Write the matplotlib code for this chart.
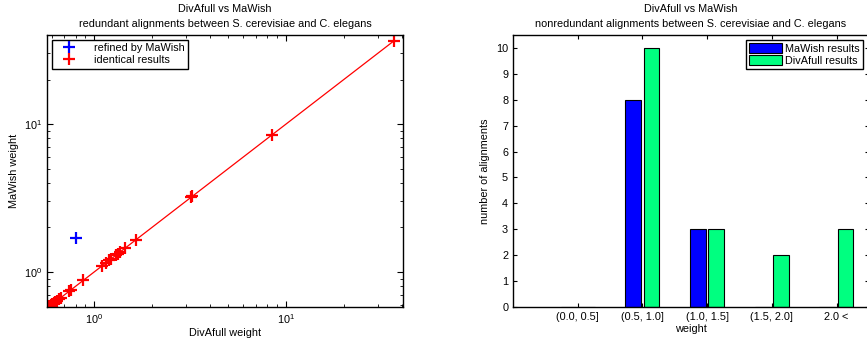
import matplotlib
matplotlib.use("Agg")
import matplotlib.pyplot as plt
import numpy as np

plt.rcParams['font.family'] = ['Liberation Sans', 'DejaVu Sans']
plt.rcParams['mathtext.fontset'] = 'custom'
plt.rcParams['mathtext.rm'] = 'Liberation Sans'
plt.rcParams['mathtext.it'] = 'Liberation Sans:italic'
plt.rcParams['font.size'] = 7.8

# ---- data: left scatter ----
identical_weights = [0.575, 0.585, 0.595, 0.605, 0.615, 0.625, 0.64, 0.655, 0.67,
                     0.74, 0.76, 0.88, 1.10, 1.15, 1.20, 1.22, 1.30, 1.33, 1.36,
                     1.45, 1.65, 3.20, 3.25, 8.5, 36.5]
refined_divafull = [0.806]
refined_mawish = [1.70]

# ---- data: right bars ----
categories = ['(0.0, 0.5]', '(0.5, 1.0]', '(1.0, 1.5]', '(1.5, 2.0]', '2.0 <']
mawish_counts = [0, 8, 3, 0, 0]
divafull_counts = [0, 10, 3, 2, 3]

W, H = 867, 342
fig = plt.figure(figsize=(W / 100, H / 100), dpi=100)

def ax_rect(x0, x1, y0, y1):
    return [x0 / W, 1 - y1 / H, (x1 - x0) / W, (y1 - y0) / H]

FS = 7.8

# ---------- left ----------
ax1 = fig.add_axes(ax_rect(47, 403, 35, 307))
ax1.set_xscale('log')
ax1.set_yscale('log')
lo, hi = min(identical_weights), max(identical_weights)
ax1.plot([lo, hi], [lo, hi], color='red', lw=0.9)
ax1.plot(refined_divafull, refined_mawish, '+', color='blue', ms=9, mew=1.6,
         label='refined by MaWish', linestyle='none')
ax1.plot(identical_weights, identical_weights, '+', color='red', ms=9, mew=1.6,
         label='identical results', linestyle='none')
ax1.set_xlim(0.568, 40.7)
ax1.set_ylim(0.58, 40)
ax1.tick_params(which='both', direction='in', top=True, right=True, labelsize=FS)
ax1.tick_params(which='major', length=4)
ax1.tick_params(which='minor', length=2.5)
ax1.set_xlabel('DivAfull weight', labelpad=2)
ax1.set_ylabel('MaWish weight', labelpad=4)
ax1.set_title('DivAfull vs MaWish\nredundant alignments between S. cerevisiae and C. elegans',
              fontsize=FS, pad=6, linespacing=1.55)
leg1 = ax1.legend(loc='upper left', fancybox=False, edgecolor='black', framealpha=1,
                  fontsize=FS, borderaxespad=0.45, handlelength=2.6, handletextpad=1.0,
                  borderpad=0.3, labelspacing=0.2)
leg1.get_frame().set_linewidth(1.0)
for s in ax1.spines.values():
    s.set_linewidth(1.0)

# ---------- right ----------
ax2 = fig.add_axes(ax_rect(513, 869, 35, 307))
x = np.arange(1, len(categories) + 1)
bw = 0.24
ax2.bar(x - 0.145, mawish_counts, width=bw, color='#0000ff', edgecolor='black',
        linewidth=0.8, label='MaWish results')
ax2.bar(x + 0.14, divafull_counts, width=bw, color='#00ff80', edgecolor='black',
        linewidth=0.8, label='DivAfull results')
ax2.set_xlim(0, 5.5)
ax2.set_ylim(0, 10.5)
ax2.set_xticks(x)
ax2.set_xticklabels(categories)
ax2.set_yticks(range(0, 11))
ax2.tick_params(direction='in', top=True, right=True, length=3, labelsize=FS)
ax2.set_xlabel('weight', labelpad=1.5)
ax2.set_ylabel('number of alignments', labelpad=4)
ax2.set_title('DivAfull vs MaWish\nnonredundant alignments between S. cerevisiae and C. elegans',
              fontsize=FS, pad=6, linespacing=1.55)
leg2 = ax2.legend(loc='upper right', fancybox=False, edgecolor='black', framealpha=1,
                  fontsize=FS, borderaxespad=0.0, handlelength=3.0, handleheight=1.0,
                  borderpad=0.3, labelspacing=0.15, handletextpad=0.3,
                  bbox_to_anchor=(863 / W, 1 - 40 / H), bbox_transform=fig.transFigure)
leg2.get_frame().set_linewidth(1.0)
for s in ax2.spines.values():
    s.set_linewidth(1.0)

fig.savefig('out.png', dpi=100)
